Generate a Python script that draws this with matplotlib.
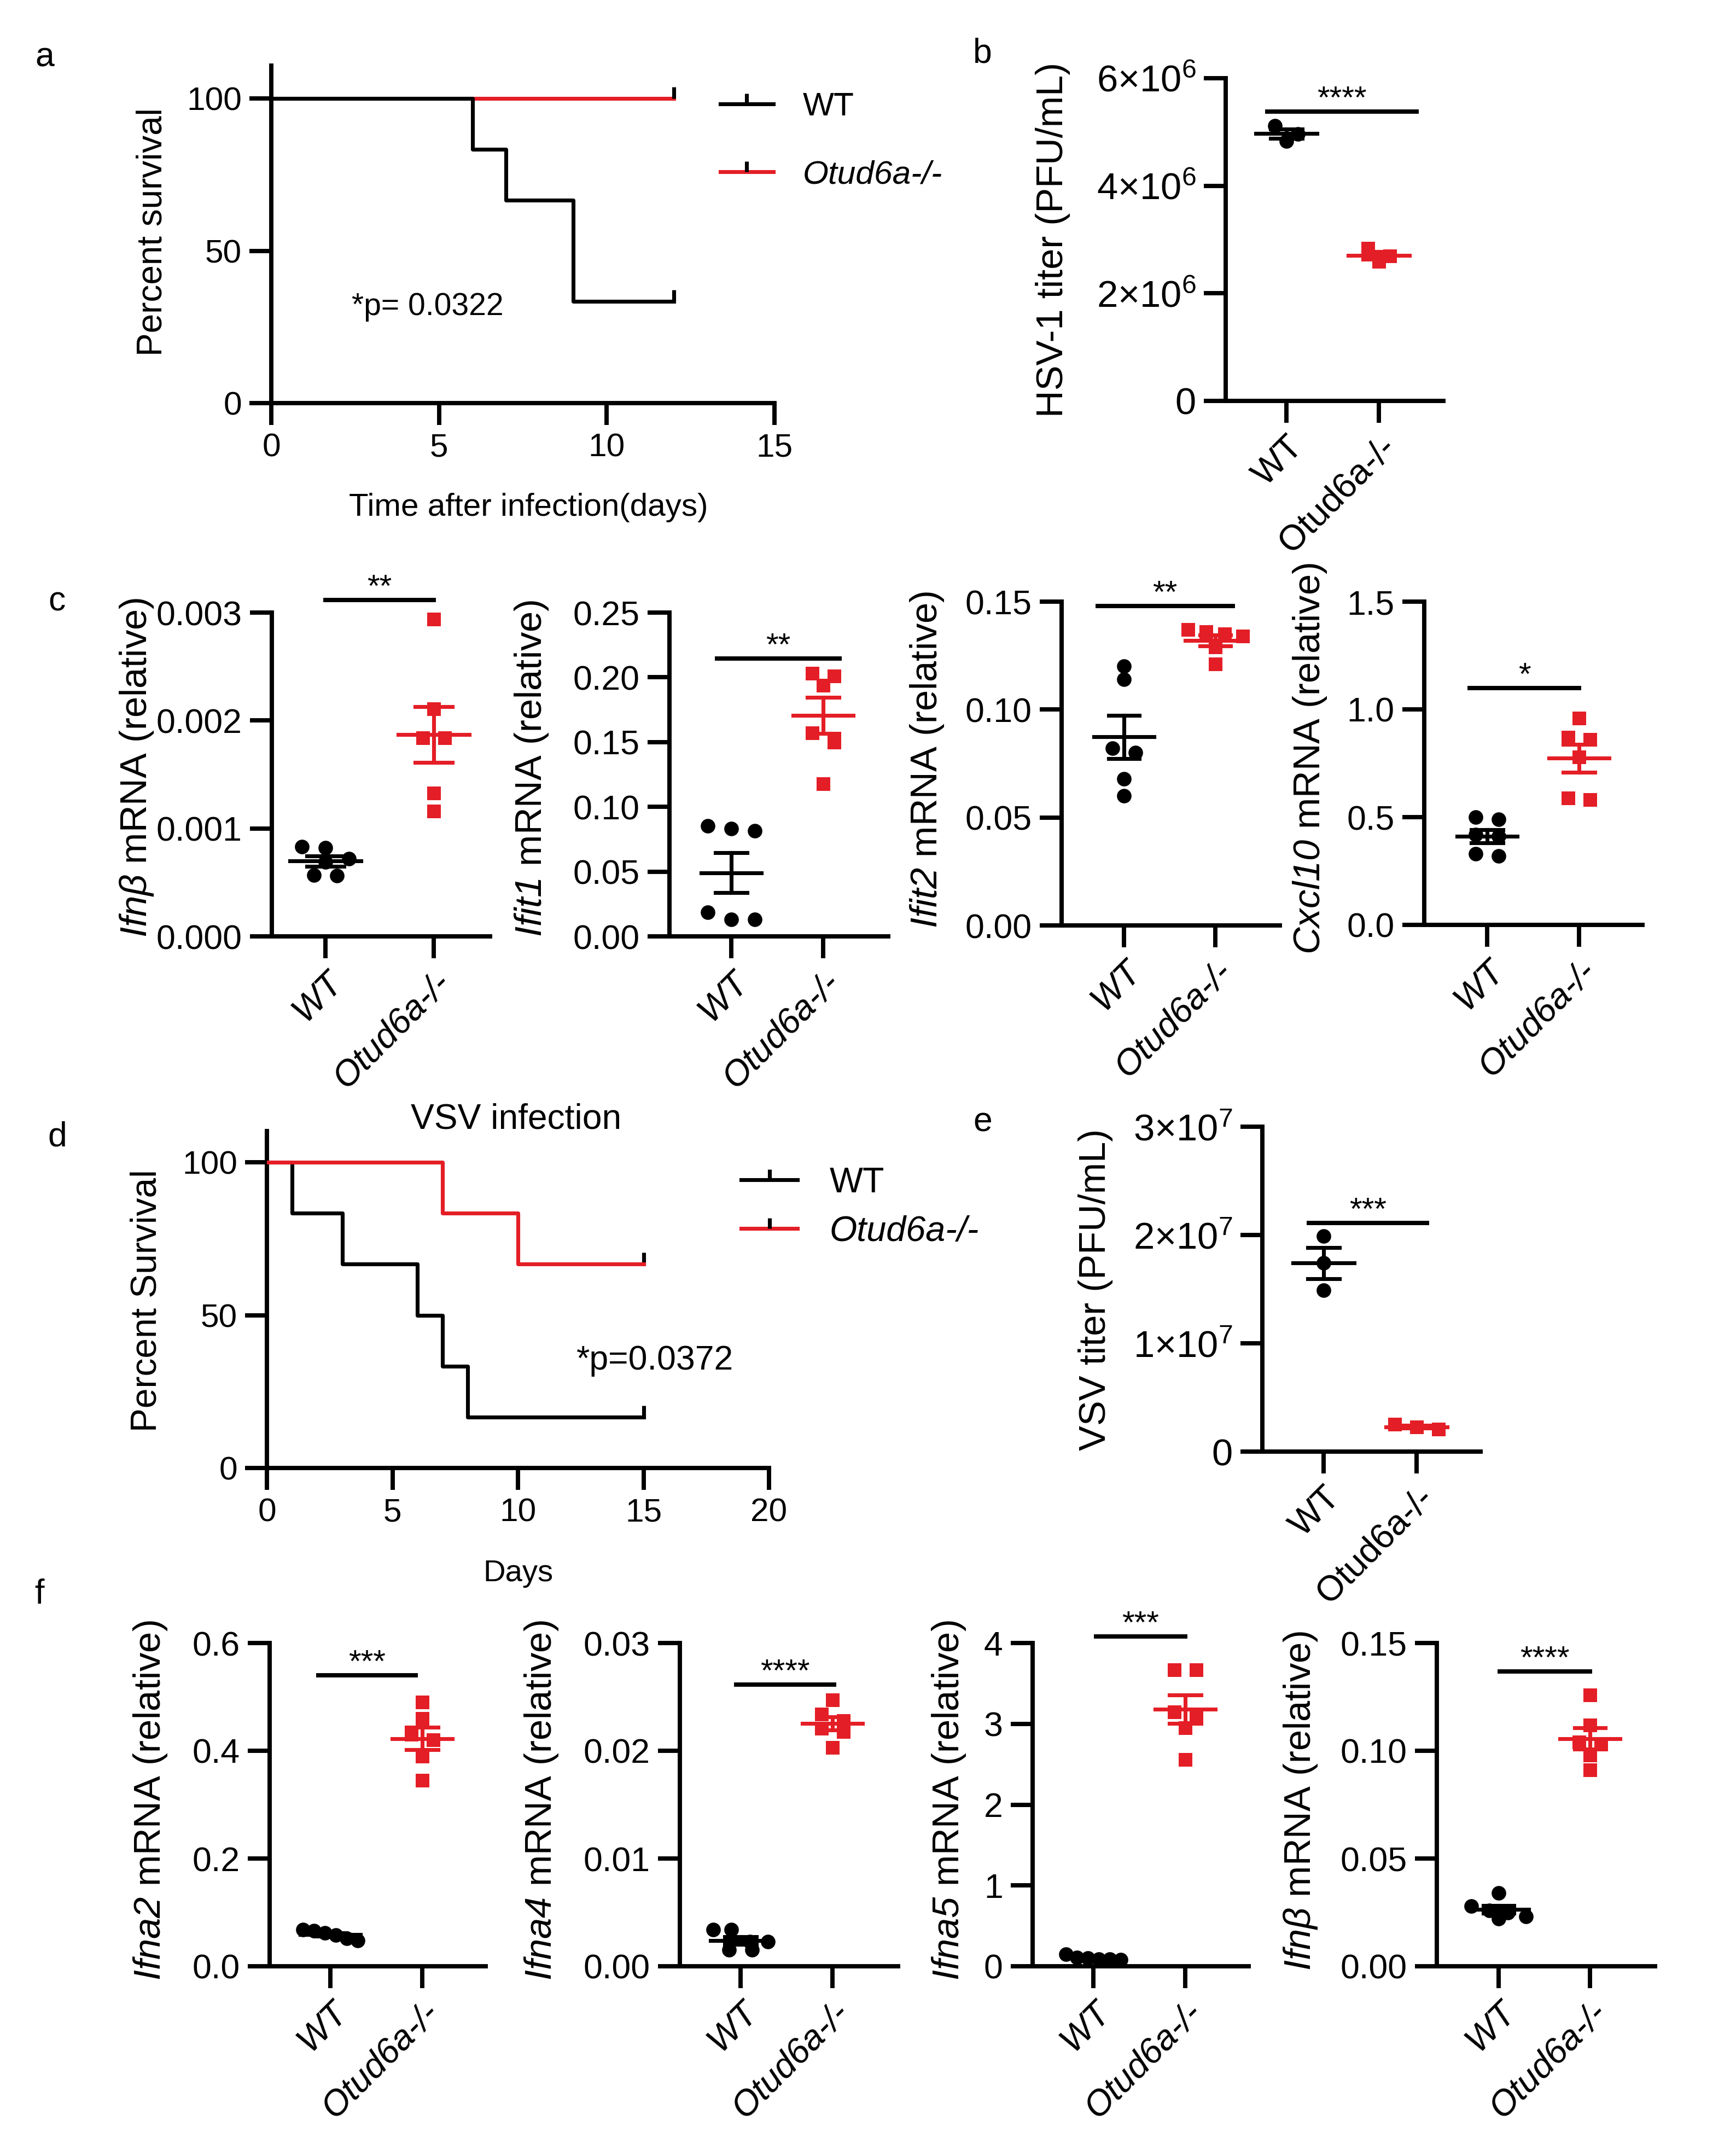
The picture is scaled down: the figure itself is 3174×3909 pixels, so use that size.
import numpy as np
import matplotlib
matplotlib.use("Agg")
import matplotlib.pyplot as plt
from matplotlib.lines import Line2D

plt.rcParams['font.family'] = ['Liberation Sans', 'DejaVu Sans']
plt.rcParams['mathtext.fontset'] = 'custom'
plt.rcParams['mathtext.rm'] = 'Liberation Sans'
plt.rcParams['mathtext.it'] = 'Liberation Sans:italic'
# sf slot used for italic gene names so digits stay italic too
plt.rcParams['mathtext.sf'] = 'Liberation Sans:italic'
plt.rcParams['mathtext.default'] = 'regular'
plt.rcParams['axes.linewidth'] = 1.9
plt.rcParams['xtick.major.width'] = 1.9
plt.rcParams['ytick.major.width'] = 1.9
plt.rcParams['xtick.major.size'] = 9.5
plt.rcParams['ytick.major.size'] = 9.5

W, H = 3174, 3909
DPI = 300
RED = '#E41E26'

groups = ['WT', 'Otud6a-/-']

# a: HSV-1 survival (Kaplan-Meier steps)
a_wt_days = [0, 6, 7, 9, 12]
a_wt_surv = [100, 83.33, 66.67, 33.33, 33.33]
a_ko_days = [0, 12]
a_ko_surv = [100, 100]

# b: HSV-1 titer
b_wt = [5.12e6, 4.83e6, 4.96e6]
b_ko = [2.59e6, 2.84e6, 2.69e6]

# c: mRNA after HSV-1
c_ifnb_wt = [0.00082, 0.00083, 0.00072, 0.00069, 0.00056, 0.00057]
c_ifnb_ko = [0.00294, 0.00211, 0.00184, 0.00184, 0.00133, 0.00116]
c_ifit1_wt = [0.0853, 0.0813, 0.0832, 0.0132, 0.0186, 0.0132]
c_ifit1_ko = [0.203, 0.201, 0.194, 0.157, 0.150, 0.118]
c_ifit2_wt = [0.120, 0.114, 0.082, 0.080, 0.068, 0.060]
c_ifit2_ko = [0.137, 0.136, 0.135, 0.134, 0.129, 0.121]
c_cxcl10_wt = [0.50, 0.49, 0.42, 0.41, 0.33, 0.32]
c_cxcl10_ko = [0.96, 0.87, 0.86, 0.78, 0.59, 0.58]

# d: VSV survival
d_wt_days = [0, 1, 3, 6, 7, 8, 15]
d_wt_surv = [100, 83.33, 66.67, 50, 33.33, 16.67, 16.67]
d_ko_days = [0, 7, 10, 15]
d_ko_surv = [100, 83.33, 66.67, 66.67]

# e: VSV titer
e_wt = [1.99e7, 1.74e7, 1.49e7]
e_ko = [0.209e7, 0.252e7, 0.226e7]

# f: mRNA after VSV
f_ifna2_wt = [0.048, 0.062, 0.068, 0.066, 0.052, 0.058]
f_ifna2_ko = [0.49, 0.46, 0.42, 0.43, 0.39, 0.345]
f_ifna4_wt = [0.0034, 0.0034, 0.0023, 0.0023, 0.0015, 0.0015]
f_ifna4_ko = [0.0247, 0.0234, 0.0228, 0.0221, 0.0218, 0.0203]
f_ifna5_wt = [0.15, 0.11, 0.09, 0.08, 0.09, 0.10]
f_ifna5_ko = [3.67, 3.67, 3.10, 3.15, 2.95, 2.56]
f_ifnb_wt = [0.034, 0.028, 0.026, 0.022, 0.023, 0.025]
f_ifnb_ko = [0.126, 0.112, 0.104, 0.103, 0.098, 0.091]

fig = plt.figure(figsize=(W / DPI, H / DPI), dpi=DPI)


def add_ax(l, t, r, b):
    ax = fig.add_axes([l / W, 1 - b / H, (r - l) / W, (b - t) / H])
    ax.spines['top'].set_visible(False)
    ax.spines['right'].set_visible(False)
    return ax


def put_ylabel(ax, text, cx, cy, fs):
    ax.set_ylabel(text, fontsize=fs, va='center')
    ax.yaxis.set_label_coords(cx / W, 1 - cy / H, transform=fig.transFigure)


def swarm(ax, xc, vals, size_px, max_half=0.3):
    # group close values into rows, spread each row sideways
    vals = np.asarray(vals, float)
    ypx = ax.transData.transform(np.column_stack([np.full(len(vals), xc), vals]))[:, 1]
    unit_px = ax.transData.transform((1, 0))[0] - ax.transData.transform((0, 0))[0]
    rows = []
    for i in np.argsort(-ypx):
        if rows and ypx[rows[-1][0]] - ypx[i] < 0.85 * size_px:
            rows[-1].append(i)
        else:
            rows.append([i])
    offs = np.zeros(len(vals))
    for row in rows:
        k = len(row)
        if k == 1:
            continue
        d = min(1.6 * size_px, 2 * max_half * unit_px / (k - 1))
        for j, i in enumerate(row):
            offs[i] = (j - (k - 1) / 2) * d / unit_px
    return xc + offs


def dot_panel(rect, xt, wt, ko, yticks, ylabels, ylabel, lab_c, sig, ital=True, tick_fs=15):
    l, t, r, b = rect
    ax = add_ax(l, t, r, b)
    u = xt[1] - xt[0]
    ax.set_xlim((l - xt[0]) / u, (r - xt[0]) / u)
    ax.set_ylim(yticks[0], yticks[-1])
    ax.set_yticks(yticks)
    ax.set_yticklabels(ylabels, fontsize=tick_fs)
    ax.set_xticks([0, 1])
    ax.set_xticklabels(groups, rotation=45, ha='right', va='top', rotation_mode='anchor',
                       fontsize=15.5, style='italic' if ital else 'normal')
    put_ylabel(ax, ylabel, lab_c[0], lab_c[1], 16.5)
    for xc, vals, col, mk, ms in [(0, wt, 'black', 'o', 6.4), (1, ko, RED, 's', 6.0)]:
        xs = swarm(ax, xc, vals, ms * DPI / 72)
        ax.plot(xs, vals, ls='none', marker=mk, ms=ms, color=col, mew=0, zorder=3, clip_on=False)
        m = np.mean(vals)
        se = np.std(vals, ddof=1) / np.sqrt(len(vals))
        ax.plot([xc - 0.33, xc + 0.33], [m, m], color=col, lw=1.7, zorder=4, clip_on=False)
        ax.plot([xc, xc], [m - se, m + se], color=col, lw=1.7, zorder=4, clip_on=False)
        for yy in (m - se, m + se):
            ax.plot([xc - 0.17, xc + 0.17], [yy, yy], color=col, lw=1.7, zorder=4, clip_on=False)
    x0, x1, ys, stars = sig
    ax.plot([x0, x1], [ys, ys], color='black', lw=1.9, clip_on=False)
    ax.annotate(stars, xy=((x0 + x1) / 2, ys), xytext=(0, 1.5), textcoords='offset points',
                ha='center', va='baseline', fontsize=14, annotation_clip=False)
    return ax


def legend_for(ax, left, top, fs, spacing):
    handles = [Line2D([], [], color=c, lw=1.7, marker=2, ms=4.5, mew=1.7, mec='black')
               for c in ('black', RED)]
    leg = ax.legend(handles, groups, loc='upper left', bbox_to_anchor=(left / W, 1 - top / H),
                    bbox_transform=fig.transFigure, frameon=False, borderpad=0, borderaxespad=0,
                    handlelength=1.6, handletextpad=0.9, labelspacing=spacing, fontsize=fs,
                    numpoints=1)
    leg.get_texts()[1].set_style('italic')


# ---- a ----
ax = add_ax(496, 120, 1416, 737)
ax.set_xlim(0, 15)
ax.set_ylim(0, 110.8)
ax.set_xticks([0, 5, 10, 15])
ax.set_yticks([0, 50, 100])
ax.tick_params(labelsize=14.5)
ax.step(a_ko_days, a_ko_surv, where='post', color=RED, lw=1.7, zorder=2)
ax.step(a_wt_days, a_wt_surv, where='post', color='black', lw=1.7, zorder=3)
ax.plot([a_ko_days[-1]], [a_ko_surv[-1]], marker=2, ms=5, mew=1.7, color='black', clip_on=False)
ax.plot([a_wt_days[-1]], [a_wt_surv[-1]], marker=2, ms=5, mew=1.7, color='black', clip_on=False)
ax.text(2.4, 31.6, '*p= 0.0322', fontsize=13.7, va='center')
put_ylabel(ax, 'Percent survival', 279, 424, 15.3)
ax.set_xlabel('Time after infection(days)', fontsize=14, va='center')
ax.xaxis.set_label_coords(966 / W, 1 - 928 / H, transform=fig.transFigure)
legend_for(ax, 1317, 168, 14.5, 1.15)

# ---- b ----
dot_panel((2241, 143, 2639, 733), (2352, 2521), b_wt, b_ko,
          [0, 2e6, 4e6, 6e6], ['0', '2×10$^{6}$', '4×10$^{6}$', '6×10$^{6}$'],
          'HSV-1 titer (PFU/mL)', (1925, 438), (-0.21, 1.41, 5.38e6, '****'),
          ital=False, tick_fs=16.5)

# ---- c ----
dot_panel((497, 1120, 896, 1712), (595, 793), c_ifnb_wt, c_ifnb_ko,
          [0, 0.001, 0.002, 0.003], ['0.000', '0.001', '0.002', '0.003'],
          r'$\mathsf{Ifn\beta}$ mRNA (relative)', (250, 1403), (0, 1, 0.003116, '**'))
dot_panel((1224, 1120, 1624, 1712), (1337, 1505), c_ifit1_wt, c_ifit1_ko,
          [0, 0.05, 0.10, 0.15, 0.20, 0.25], ['0.00', '0.05', '0.10', '0.15', '0.20', '0.25'],
          r'$\mathsf{Ifit1}$ mRNA (relative)', (972, 1405), (-0.155, 1.18, 0.2145, '**'))
dot_panel((1941, 1100, 2340, 1692), (2055, 2222), c_ifit2_wt, c_ifit2_ko,
          [0, 0.05, 0.10, 0.15], ['0.00', '0.05', '0.10', '0.15'],
          r'$\mathsf{Ifit2}$ mRNA (relative)', (1695, 1389), (-0.29, 1.19, 0.1479, '**'))
dot_panel((2604, 1100, 3003, 1691), (2719, 2887), c_cxcl10_wt, c_cxcl10_ko,
          [0, 0.5, 1.0, 1.5], ['0.0', '0.5', '1.0', '1.5'],
          r'$\mathsf{Cxcl10}$ mRNA (relative)', (2395, 1387), (-0.19, 1.0, 1.098, '*'))

# ---- d ----
ax = add_ax(488, 2068, 1406, 2684)
ax.set_xlim(0, 20)
ax.set_ylim(0, 110.2)
ax.set_xticks([0, 5, 10, 15, 20])
ax.set_yticks([0, 50, 100])
ax.tick_params(labelsize=14.5)
ax.step(d_wt_days, d_wt_surv, where='post', color='black', lw=1.7, zorder=2)
ax.step(d_ko_days, d_ko_surv, where='post', color=RED, lw=1.7, zorder=3)
ax.plot([d_ko_days[-1]], [d_ko_surv[-1]], marker=2, ms=5, mew=1.7, color='black', clip_on=False)
ax.plot([d_wt_days[-1]], [d_wt_surv[-1]], marker=2, ms=5, mew=1.7, color='black', clip_on=False)
ax.text(12.33, 35.1, '*p=0.0372', fontsize=15, va='center')
put_ylabel(ax, 'Percent Survival', 268, 2378, 15.8)
ax.set_xlabel('Days', fontsize=13.5, va='center')
ax.xaxis.set_label_coords(947 / W, 1 - 2877 / H, transform=fig.transFigure)
fig.text(944 / W, 1 - 2046 / H, 'VSV infection', fontsize=15.4, ha='center', va='center')
legend_for(ax, 1355, 2133, 15.5, 0.45)

# ---- e ----
dot_panel((2308, 2060, 2707, 2654), (2420, 2590), e_wt, e_ko,
          [0, 1e7, 2e7, 3e7], ['0', '1×10$^{7}$', '2×10$^{7}$', '3×10$^{7}$'],
          'VSV titer (PFU/mL)', (2003, 2358), (-0.16, 1.11, 2.11e7, '***'),
          ital=False, tick_fs=16.5)

# ---- f ----
dot_panel((493, 3004, 888, 3595), (604, 772), f_ifna2_wt, f_ifna2_ko,
          [0, 0.2, 0.4, 0.6], ['0.0', '0.2', '0.4', '0.6'],
          r'$\mathsf{Ifna2}$ mRNA (relative)', (275, 3292), (-0.13, 0.93, 0.54, '***'))
dot_panel((1243, 3004, 1642, 3595), (1354, 1522), f_ifna4_wt, f_ifna4_ko,
          [0, 0.01, 0.02, 0.03], ['0.00', '0.01', '0.02', '0.03'],
          r'$\mathsf{Ifna4}$ mRNA (relative)', (990, 3292), (-0.05, 1.02, 0.02616, '****'))
dot_panel((1888, 3004, 2283, 3595), (1999, 2167), f_ifna5_wt, f_ifna5_ko,
          [0, 1, 2, 3, 4], ['0', '1', '2', '3', '4'],
          r'$\mathsf{Ifna5}$ mRNA (relative)', (1735, 3292), (0.03, 1.0, 4.08, '***'))
dot_panel((2627, 3004, 3026, 3595), (2740, 2907), f_ifnb_wt, f_ifnb_ko,
          [0, 0.05, 0.10, 0.15], ['0.00', '0.05', '0.10', '0.15'],
          r'$\mathsf{Ifn\beta}$ mRNA (relative)', (2378, 3292), (0.01, 1.0, 0.1368, '****'))

# panel letters
for letter, px, py in [('a', 82, 105), ('b', 1796, 98), ('c', 104, 1100),
                       ('d', 105, 2079), ('e', 1797, 2052), ('f', 72, 2915)]:
    fig.text(px / W, 1 - py / H, letter, fontsize=15, ha='center', va='center')

fig.savefig('out.png', dpi=DPI)
